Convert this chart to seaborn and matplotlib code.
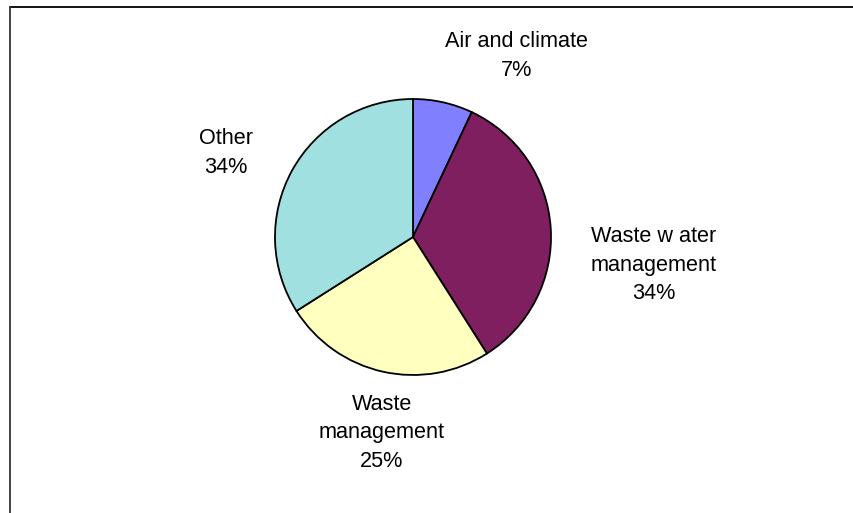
import matplotlib
matplotlib.use("Agg")
import matplotlib.pyplot as plt
import seaborn as sns
from matplotlib.lines import Line2D

# data
categories = ["Air and climate", "Waste w ater\nmanagement", "Waste\nmanagement", "Other"]
shares = [7, 34, 25, 34]
colors = ["#8080FF", "#7F1F5F", "#FFFFC0", "#A0E0E0"]

# label centres, in pie radius units (centre at 0,0)
label_xy = [(0.75, 1.31), (1.746, -0.203), (-0.225, -1.42), (-1.355, 0.609)]

sns.set_theme(style="white")
plt.rcParams['font.family'] = ['Liberation Sans', 'DejaVu Sans']

W, H = 854, 513
cx, cy, R = 413, 237, 138

fig = plt.figure(figsize=(W / 100, H / 100), dpi=100)
ax = fig.add_axes([0, 0, 1, 1])
pal = sns.color_palette(colors)

ax.pie(shares, colors=pal, startangle=90, counterclock=False,
       wedgeprops=dict(edgecolor="black", linewidth=1.3))
ax.set_xlim(-cx / R, (W - cx) / R)
ax.set_ylim(-(H - cy) / R, cy / R)
ax.set_aspect("auto")
ax.axis("off")

for name, val, (x, y) in zip(categories, shares, label_xy):
    ax.text(x, y, f"{name}\n{val}%", ha="center", va="center",
            fontsize=15.6, linespacing=1.47, color="black")

# chart area border (only top and left visible)
top = 1 - 7 / H
left = 10 / W
fig.add_artist(Line2D([left, 1], [top, top], color="black", lw=1.3))
fig.add_artist(Line2D([left, left], [0, top], color="#333333", lw=1.3))

fig.savefig("out.png", dpi=100)
